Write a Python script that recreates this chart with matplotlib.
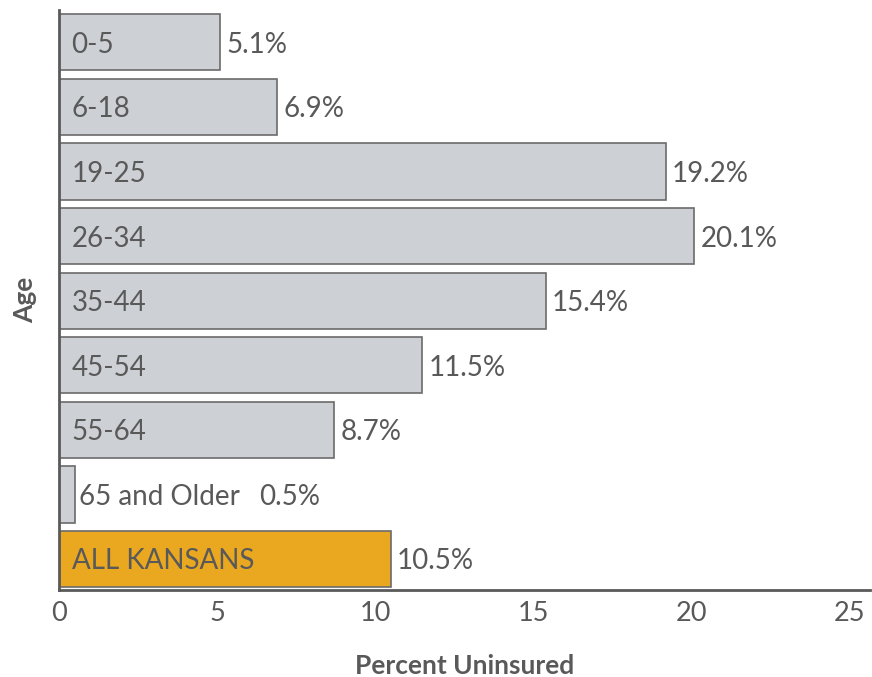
import matplotlib.pyplot as plt

plt.rcParams['font.family'] = ['Lato', 'DejaVu Sans']

ages = ['0-5', '6-18', '19-25', '26-34', '35-44', '45-54', '55-64', '65 and Older', 'ALL KANSANS']
uninsured = [5.1, 6.9, 19.2, 20.1, 15.4, 11.5, 8.7, 0.5, 10.5]
xticks = [0, 5, 10, 15, 20, 25]

text_color = '#595959'
gray_fill = '#cdd0d4'
orange_fill = '#eaa820'

fig = plt.figure(figsize=(8.72, 6.77), dpi=100)
ax = fig.add_axes([59 / 872, 87 / 677, 811 / 872, 580 / 677])

colors = [gray_fill] * (len(ages) - 1) + [orange_fill]
y = list(range(len(ages)))
bars = ax.barh(y, uninsured, height=0.87, color=colors, edgecolor='#6b6b6b', linewidth=1.2)

ax.set_xlim(0, 25.66)
ax.set_ylim(len(ages) - 0.52, -0.5)

fs = 20
for yi, name, val in zip(y, ages, uninsured):
    if val > 3:
        ax.annotate(name, xy=(0, yi), xytext=(9, 0), textcoords='offset points',
                    va='center_baseline', ha='left', fontsize=fs, color=text_color)
        ax.annotate(f'{val}%', xy=(val, yi), xytext=(4.5, 0), textcoords='offset points',
                    va='center_baseline', ha='left', fontsize=fs, color=text_color)
    else:
        lbl = ax.annotate(name, xy=(val, yi), xytext=(3, 0), textcoords='offset points',
                          va='center_baseline', ha='left', fontsize=fs, color=text_color)
        ax.annotate(f'{val}%', xy=(1, 0.5), xycoords=lbl, xytext=(14, 0),
                    textcoords='offset points', va='center', ha='left',
                    fontsize=fs, color=text_color)

ax.set_xticks(xticks)
ax.set_yticks([])
ax.tick_params(axis='x', length=0, pad=8, labelsize=19.5, labelcolor=text_color)
for s in ['top', 'right']:
    ax.spines[s].set_visible(False)
for s in ['left', 'bottom']:
    ax.spines[s].set_color('#5a5a5a')
    ax.spines[s].set_linewidth(2)

ax.set_xlabel('Percent Uninsured', fontsize=19, fontweight='bold', color=text_color, labelpad=20)
ax.set_ylabel('Age', fontsize=19, fontweight='bold', color=text_color, labelpad=16)

fig.savefig('out.png', dpi=100)
